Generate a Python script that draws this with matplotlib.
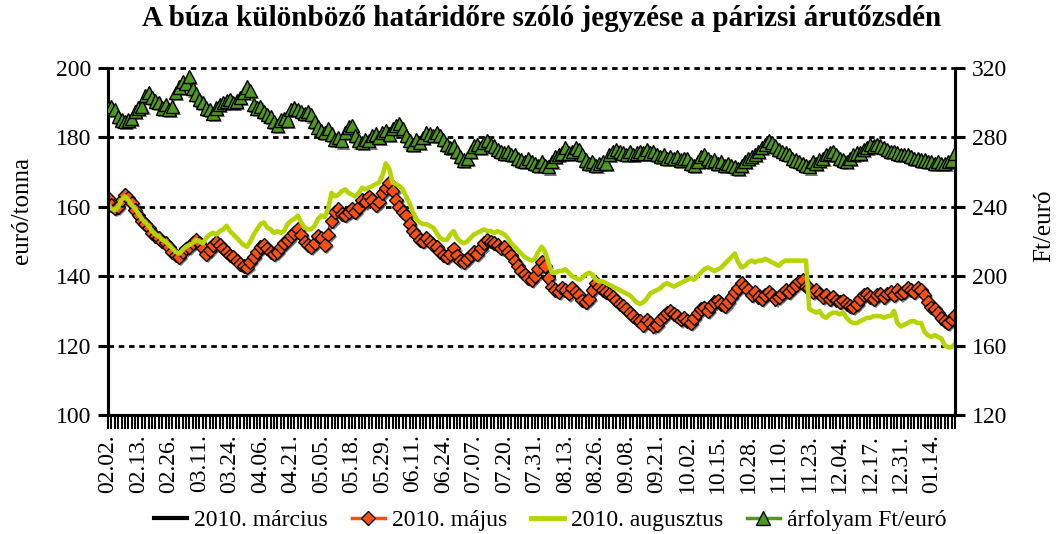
import matplotlib
matplotlib.use("Agg")
import matplotlib.pyplot as plt
import matplotlib.patheffects as pe
from matplotlib.lines import Line2D

plt.rcParams["font.family"] = ["Liberation Serif", "DejaVu Serif"]

# tick labels: every 9th trading day starting 2009.02.02
date_labels = ["02.02.", "02.13.", "02.26.", "03.11.", "03.24.", "04.06.", "04.21.",
               "05.05.", "05.18.", "05.29.", "06.11.", "06.24.", "07.07.", "07.20.",
               "07.31.", "08.13.", "08.26.", "09.08.", "09.21.", "10.02.", "10.15.",
               "10.28.", "11.10.", "11.23.", "12.04.", "12.17.", "12.31.", "01.14."]
label_step = 9

# 2010. május (euró/tonna)
majus = [
    162.5, 160.5, 159.5, 160, 162, 163.5, 162.5, 161, 159, 157.5,
    156, 155, 154, 152.5, 151.5, 151, 150, 149.5, 148.5, 147,
    146, 145.5, 147, 148, 148.5, 149.5, 150.5, 149.5, 148, 146.5,
    147.5, 149, 150, 149, 148, 147, 146, 145.5, 144.5, 143.5,
    143, 142.5, 144, 145.5, 147, 148.5, 149, 148, 147, 146.5,
    147, 148.5, 149.5, 150.5, 151.5, 152.5, 153.5, 152, 150, 149,
    148.5, 149.5, 151.5, 151, 149, 152, 156, 158.5, 159.5, 158,
    157.5, 158.5, 159.5, 158.5, 160, 162, 161.5, 163, 162, 160.5,
    161.5, 164, 165.5, 167, 164.5, 162, 160, 158.5, 157.5, 155,
    153, 152, 150.5, 150, 151, 150, 149, 148.5, 147, 146,
    145.5, 146.5, 148, 146, 144.5, 144, 145, 146, 147, 146.5,
    148, 149.5, 150.5, 150, 149.5, 149, 148, 148.5, 147, 146,
    144.5, 143, 141.5, 140.5, 139.5, 139, 140, 142, 144, 143,
    139.5, 137, 136, 135.5, 136.5, 136, 135, 136.5, 135.5, 134.5,
    133, 132.5, 133.5, 136, 138, 137, 136, 135.5, 135, 134,
    133, 132, 131.5, 130.5, 129.5, 128.5, 127.5, 127, 126, 127.5,
    126.5, 125.5, 126, 127.5, 128.5, 129.5, 130, 129, 128.5, 127.5,
    128, 127, 126.5, 128, 129.5, 130.5, 131, 130, 131.5, 132.5,
    133, 132, 131.5, 132.5, 134, 135.5, 136.5, 138, 137, 136,
    134.5, 135.5, 134, 133.5, 134.5, 135.5, 134.5, 133.5, 134, 135,
    136, 135.5, 136.5, 137.5, 138.5, 139, 137, 136.5, 135.5, 136,
    135, 134, 134.5, 133.5, 134, 133, 132.5, 133, 132, 131.5,
    131, 132, 133.5, 134.5, 135, 134, 133.5, 134.5, 135, 134,
    135, 135.5, 134.5, 136, 135, 135.5, 136.5, 136, 135.5, 136.5,
    136, 134.5, 132.5, 131, 130.5, 129.5, 128, 127, 126.5, 127.5,
    128.8,
]

# 2010. március: in the source it lies directly under the May markers
marcius = list(majus)

# 2010. augusztus (euró/tonna)
augusztus = [
    160.5, 159.5, 159, 160, 162, 163, 162, 160.5, 159.5, 158,
    156.5, 155.5, 154.5, 153, 152, 151.5, 150.5, 150, 149, 148,
    147, 146.5, 147.5, 148.5, 149, 149.5, 150.5, 150, 149.5, 151,
    152, 152.5, 152, 153, 153.5, 154.5, 153, 152, 151, 150,
    149, 148.5, 150, 152, 153.5, 155, 155.5, 154, 153.5, 152.5,
    153, 152.5, 153, 155, 156, 156.5, 157.5, 155.5, 154, 153.5,
    153.5, 154.5, 156.5, 157.5, 157, 159.5, 164, 163, 163.5, 164.5,
    165, 164, 163.5, 163, 164, 165.5, 165, 165.5, 166, 166.5,
    167, 169, 172.5, 171, 167, 166.5, 166, 165, 163, 161,
    158.5, 156.5, 155.5, 155, 155, 154.5, 154, 152.5, 151, 150.5,
    150.5, 152, 153, 151, 150, 149.5, 150, 151, 152, 152.5,
    153, 153.5, 153, 153, 152.5, 153, 152.5, 152, 151, 149.5,
    148.5, 147.5, 146.5, 145.5, 145, 144.5, 145, 147, 148.5, 147,
    144, 141, 141, 141.5, 141.5, 142, 141, 140, 139.5, 139,
    139.5, 140.5, 141, 140.5, 139, 138.5, 138.5, 138, 137.5, 137,
    136.5, 136, 135.5, 135, 134.5, 133.5, 132.5, 132, 132.5, 133.5,
    135, 135.5, 136, 136.5, 137.5, 138, 137.5, 137, 137.5, 138,
    138.5, 139, 139.5, 139, 140, 141, 142, 142.5, 142, 141.5,
    142, 142.5, 143.5, 144.5, 145.5, 146.5, 144, 142.5, 143, 144,
    144.5, 144, 144.5, 144.5, 145, 144.5, 144, 143.5, 143, 144,
    144.5, 144.5, 144.5, 144.5, 144.5, 144.5, 144.5, 130.5, 130, 129.5,
    130, 128.5, 128, 129, 129.5, 129.5, 129, 129.5, 128, 127,
    126.5, 126.5, 127, 127.5, 128, 128, 128.5, 128.5, 128.5, 128,
    128.5, 128.5, 130, 126.5, 125.5, 126, 126.5, 127, 127, 126.5,
    126.5, 124, 123, 122.5, 123, 122.5, 122, 120, 119.5, 119.5,
    120.5,
]

# árfolyam Ft/euró (right axis)
arfolyam = [
    297, 298, 296, 292, 290, 289, 290, 291, 295, 297,
    298, 304, 306, 303, 301, 300, 297, 299, 296, 298,
    306, 309, 312, 311, 315, 308, 305, 302, 300, 297,
    296, 294, 297, 299, 300, 301, 302, 300, 301, 303,
    306, 309, 307, 299, 297, 298, 295, 293, 292, 289,
    287, 290, 291, 290, 296, 297, 296, 295, 294, 295,
    293, 289, 286, 284, 283, 285, 282, 279, 280, 278,
    283, 286, 287, 281, 278, 277, 279, 278, 281, 282,
    280, 283, 284, 282, 285, 287, 288, 285, 281, 278,
    276, 279, 277, 280, 283, 282, 281, 283, 281, 279,
    276, 274, 275, 272, 269, 267, 268, 272, 275, 276,
    274, 277, 278, 276, 275, 273, 272, 271, 272, 270,
    270, 268, 267, 266, 268, 266, 265, 264, 266, 264,
    263, 266, 269, 270, 271, 274, 271, 272, 274, 273,
    270, 267, 265, 266, 264, 265, 266, 265, 270, 272,
    273, 272, 271, 270, 272, 270, 271, 272, 271, 273,
    271, 272, 270, 269, 270, 268, 269, 268, 269, 267,
    268, 268, 265, 264, 266, 269, 270, 268, 266, 267,
    265, 266, 264, 265, 264, 263, 262, 264, 266, 268,
    269, 270, 272, 274, 276, 278, 277, 275, 273, 272,
    271, 270, 268, 267, 266, 265, 264, 263, 266, 265,
    267, 268, 270, 271, 272, 270, 268, 267, 266, 268,
    270, 271, 271, 273, 274, 276, 275, 276, 275, 274,
    273, 272, 272, 271, 270, 270, 270, 269, 268, 268,
    267, 267, 266, 266, 265, 266, 265, 265, 266, 267,
    271,
]

RED = "#FF5014"
LIME = "#B5D400"
GREEN = "#4E9A1E"


def main():
    n = len(majus)
    x = list(range(n))

    fig = plt.figure(figsize=(10.58, 5.34), dpi=100)
    ax = fig.add_axes([108 / 1058, 1 - 415 / 534, (955 - 108) / 1058, (415 - 68) / 534])
    ax2 = ax.twinx()

    shadow = [pe.SimplePatchShadow(offset=(1.5, -1.5), shadow_rgbFace="0.35", alpha=0.8), pe.Normal()]

    # dotted gridlines, including the top one at 200
    for g in [120, 140, 160, 180, 200]:
        ax.axhline(g, color="black", lw=2.0, ls=(0, (2.0, 1.7)), zorder=0.5, clip_on=False)

    ax.plot(x, marcius, color="black", lw=2.6, zorder=2)
    ax.plot(x, majus, color=RED, lw=2.0, zorder=3)
    ax.plot(x, majus, ls="none", marker="D", ms=7, mfc=RED, mec="black", mew=1.0,
            zorder=3, path_effects=shadow)
    ax.plot(x, augusztus, color=LIME, lw=3.3, zorder=4, solid_joinstyle="round")

    ax2.plot(x, arfolyam, color=GREEN, lw=1.5, zorder=2)
    ax2.plot(x, arfolyam, ls="none", marker="^", ms=9.5, mfc=GREEN, mec="black", mew=1.0,
             zorder=3, path_effects=shadow)

    ax.set_xlim(0, n - 1)
    ax.set_ylim(100, 200)
    ax2.set_ylim(120, 320)
    ax.set_yticks([100, 120, 140, 160, 180, 200])
    ax2.set_yticks([120, 160, 200, 240, 280, 320])

    ax.set_xticks(range(0, n, label_step)[:len(date_labels)])
    ax.set_xticklabels(date_labels, rotation=90, fontsize=17)
    ax.set_xticks(range(n), minor=True)
    ax.tick_params(axis="x", which="both", direction="out", length=10, width=1.5, pad=4)
    ax.tick_params(axis="y", direction="out", length=7, width=2.2, labelsize=17, pad=5)
    ax2.tick_params(axis="y", direction="out", length=7, width=2.2, labelsize=17, pad=5)

    for a in (ax, ax2):
        a.spines["top"].set_visible(False)
        for s in ("left", "right", "bottom"):
            a.spines[s].set_linewidth(2.2)

    fig.text(0.021, 1 - 210 / 534, "euró/tonna", rotation=90, ha="center", va="center", fontsize=18)
    fig.text(0.987, 1 - 226 / 534, "Ft/euró", rotation=90, ha="center", va="center", fontsize=18)
    fig.text(0.512, 1 - 18 / 534, "A búza különböző határidőre szóló jegyzése a párizsi árutőzsdén",
             ha="center", va="center", fontsize=21, fontweight="bold")

    handles = [
        Line2D([], [], color="black", lw=3),
        Line2D([], [], color=RED, lw=2.5, marker="D", ms=7, mfc=RED, mec="black", mew=1.0),
        Line2D([], [], color=LIME, lw=3.5),
        Line2D([], [], color=GREEN, lw=2.5, marker="^", ms=9.5, mfc=GREEN, mec="black", mew=1.0),
    ]
    names = ["2010. március", "2010. május", "2010. augusztus", "árfolyam Ft/euró"]
    fig.legend(handles, names, loc="center", bbox_to_anchor=(0.52, 1 - 520 / 534), ncol=4,
               frameon=False, fontsize=17, handlelength=1.4, handletextpad=0.3, columnspacing=1.0)

    fig.savefig("out.png", dpi=100)
    plt.close(fig)


if __name__ == "__main__":
    main()
